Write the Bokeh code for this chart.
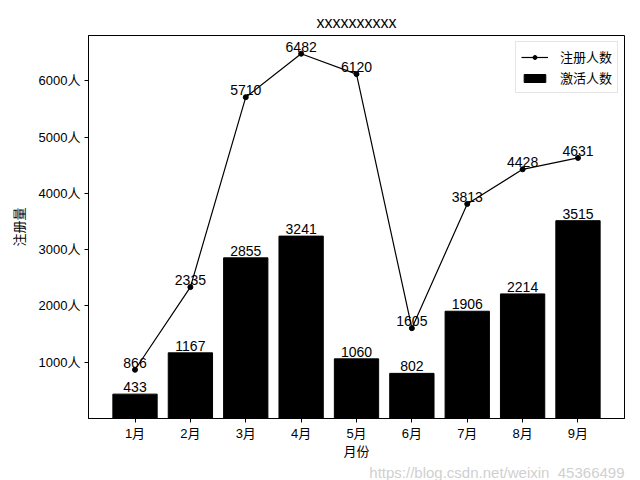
from bokeh.plotting import figure
from bokeh.models import Range1d, FixedTicker, Legend, LegendItem, ColumnDataSource, Title
from bokeh.embed import file_html
from bokeh.resources import INLINE
from bokeh.core.properties import value

months = ["1月", "2月", "3月", "4月", "5月", "6月", "7月", "8月", "9月"]
registered = [866, 2335, 5710, 6482, 6120, 1605, 3813, 4428, 4631]
activated = [433, 1167, 2855, 3241, 1060, 802, 1906, 2214, 3515]
y_ticks = [1000, 2000, 3000, 4000, 5000, 6000]
y_tick_labels = [f"{t}人" for t in y_ticks]
watermark = "https://blog.csdn.net/weixin_45366499"

FONT = "Liberation Sans, Noto Sans CJK SC, sans-serif"

xs = list(range(len(months)))
src = ColumnDataSource(dict(
    x=xs, reg=registered, act=activated,
    reg_txt=[str(v) for v in registered],
    act_txt=[str(v) for v in activated],
))

p = figure(width=640, height=480, output_backend="svg", toolbar_location=None,
           x_range=Range1d(-0.84, 8.84), y_range=Range1d(0, max(registered) * 1.05),
           min_border_left=88, min_border_right=16, min_border_top=35, min_border_bottom=56)
p.title.text = "xxxxxxxxxx"
p.title.align = "center"
p.title.text_font = FONT
p.title.text_font_size = "16px"
p.title.text_font_style = "normal"
p.title.text_color = "black"

p.xgrid.visible = False
p.ygrid.visible = False
p.outline_line_color = "black"
p.outline_line_width = 1
p.outline_line_alpha = 1

bars = p.vbar(x="x", top="act", width=0.8, color="black", source=src)
line = p.line(x="x", y="reg", line_color="black", line_width=1.2, source=src)
pts = p.scatter(x="x", y="reg", size=5, color="black", source=src)

p.text(x="x", y="reg", text="reg_txt", text_align="center", text_baseline="bottom", y_offset=-2,
       text_font=value(FONT), text_font_size="14px", text_color="black", source=src)
p.text(x="x", y="act", text="act_txt", text_align="center", text_baseline="bottom", y_offset=-2,
       text_font=value(FONT), text_font_size="14px", text_color="black", source=src)

xa = p.xaxis[0]
xa.ticker = FixedTicker(ticks=xs)
xa.major_label_overrides = {i: m for i, m in enumerate(months)}
xa.axis_label = "月份"
ya = p.yaxis[0]
ya.ticker = FixedTicker(ticks=y_ticks)
ya.major_label_overrides = {t: l for t, l in zip(y_ticks, y_tick_labels)}
ya.axis_label = "注册量"
for ax in (xa, ya):
    ax.minor_tick_line_color = None
    ax.major_tick_out = 4
    ax.major_tick_in = 0
    ax.major_tick_line_color = "black"
    ax.axis_line_color = "black"
    ax.major_label_text_font = FONT
    ax.major_label_text_font_size = "13px"
    ax.major_label_text_color = "black"
    ax.axis_label_text_font = FONT
    ax.axis_label_text_font_size = "13px"
    ax.axis_label_text_font_style = "normal"
    ax.axis_label_text_color = "black"
    ax.major_label_standoff = 4
xa.major_label_standoff = 3
xa.axis_label_standoff = 0
ya.axis_label_standoff = 9

legend = Legend(items=[LegendItem(label="注册人数", renderers=[line, pts]),
                       LegendItem(label="激活人数", renderers=[bars])],
                location="top_right", label_text_font=FONT, label_text_font_size="13px",
                label_text_color="black",
                border_line_color="#cccccc", border_line_width=1, glyph_width=27, glyph_height=10,
                spacing=2, padding=5, margin=6, label_standoff=12, label_height=16)
p.add_layout(legend)

wm = Title(text=watermark, align="right", text_font=FONT, text_font_size="15px",
           text_font_style="normal", text_color="#d0d0d0", standoff=0)
p.add_layout(wm, "below")

open("out.html", "w").write(file_html(p, INLINE))
